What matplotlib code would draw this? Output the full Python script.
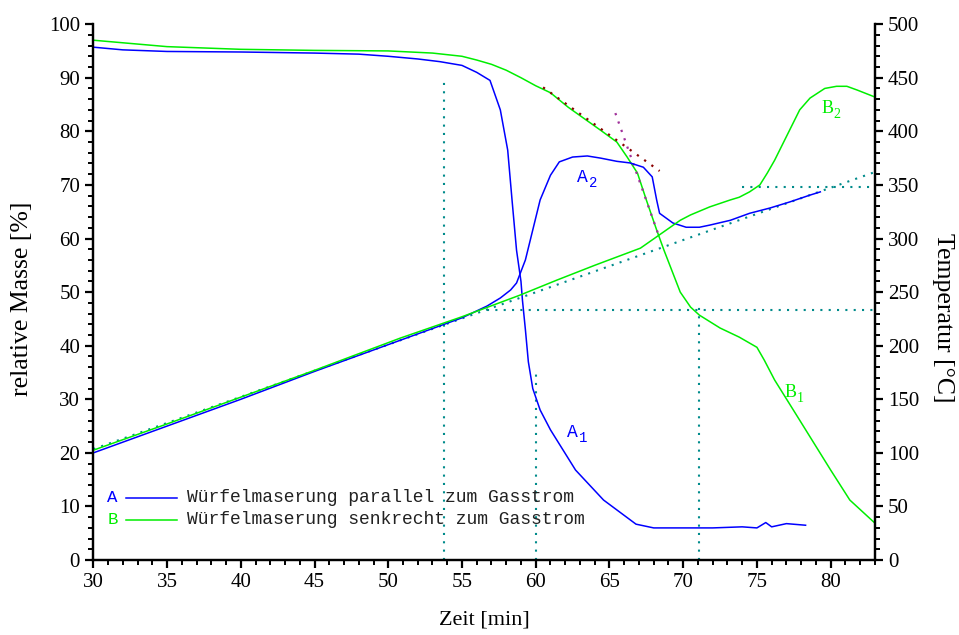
import matplotlib.pyplot as plt
from matplotlib.ticker import MultipleLocator

# Zeit [min] / relative Masse [%] fuer Probe A (parallel)
zeit_a_masse = [30, 32, 35, 40, 45, 48, 50, 52, 53.5, 55, 56, 56.9, 57.6, 58.1, 58.4,
                58.7, 59.0, 59.1, 59.3, 59.5, 59.8, 60.3, 61.0, 62.7, 64.6, 66.8, 68.0,
                70, 72, 74, 75, 75.6, 76, 77, 78.3]
masse_a = [95.7, 95.2, 94.9, 94.8, 94.6, 94.4, 94.0, 93.5, 93.0, 92.3, 91.0, 89.5,
           84.0, 76.5, 67.0, 57.8, 52.0, 48.5, 43.0, 37.0, 32.0, 28.0, 24.3, 16.8,
           11.2, 6.7, 6.0, 6.0, 6.0, 6.2, 6.0, 7.0, 6.2, 6.8, 6.5]

# Zeit [min] / relative Masse [%] fuer Probe B (senkrecht)
zeit_b_masse = [30, 35, 40, 45, 50, 53, 55, 56, 57, 58, 59, 60, 61, 62.2, 64.4, 65.5,
                66.2, 66.9, 67.5, 68.2, 68.7, 69.8, 70.5, 71.1, 72.5, 73.8, 75.0, 75.5,
                76.2, 77.9, 80.0, 81.3, 83.0]
masse_b = [97.0, 95.8, 95.3, 95.1, 95.0, 94.6, 94.0, 93.3, 92.5, 91.4, 90.0, 88.5,
           87.2, 84.5, 80.2, 78.0, 75.2, 72.2, 67.2, 61.6, 57.8, 50.0, 47.2, 45.7,
           43.3, 41.6, 39.7, 37.3, 33.6, 26.1, 16.8, 11.2, 6.9]

# Zeit [min] / Temperatur [°C] fuer Probe A
zeit_a_temp = [30, 35, 40, 45, 50.8, 55, 56.7, 57.6, 58.3, 58.7, 59.3, 59.8, 60.3,
               61.0, 61.6, 62.5, 63.5, 64.4, 65.5, 66.4, 67.3, 67.9, 68.2, 68.4, 69.3,
               70.2, 71.1, 71.8, 73.2, 74.5, 75.9, 77.2, 78.6, 79.3]
temp_a = [100, 125, 150, 176, 205, 226, 237, 244.5, 252, 258.5, 280, 308, 336, 359,
          371.5, 376, 377, 375, 372, 370.5, 366.5, 357.5, 336, 323.5, 314.5, 310.5,
          310.5, 312.5, 317, 323.5, 328.5, 334, 340.5, 343.5]

# Zeit [min] / Temperatur [°C] fuer Probe B
zeit_b_temp = [30, 35, 40, 45, 50.8, 55, 58.9, 61.4, 64, 67.1, 69.8, 70.5, 71.8,
               73.2, 73.8, 74.5, 75.2, 75.7, 76.2, 77.9, 78.6, 79.6, 80.4, 81.1, 81.8,
               83.0]
temp_b = [102.5, 127, 152, 177, 207, 227, 247, 261, 275, 291, 317, 322, 329.5, 336,
          338.5, 343.5, 350, 361, 373, 420, 431, 440, 442, 442, 438.5, 432]

# Hilfslinien (Auswertung)
hl_vert = [(53.8, 90.0), (60.0, 35.0), (71.1, 47.6)]    # Zeit, obere Grenze [%]
hl_horiz = [(233, 56.7), (348.5, 74.0)]                  # Temperatur, Startzeit
heizrate = ([30, 83], [103.5, 362])
tangente_1 = ([60.5, 68.4], [88.2, 72.6])
tangente_2 = ([65.4, 68.4], [83.4, 60.1])

blau = "#0000ff"
gruen = "#00ee00"
petrol = "#008b8b"

plt.rcParams["font.family"] = ["Liberation Serif", "DejaVu Serif"]

fig = plt.figure(figsize=(9.59, 6.35), dpi=100)
ax = fig.add_axes([0.0973, 0.118, 0.815, 0.844])
ax2 = ax.twinx()

dot = (0, (1, 3))
for t, top in hl_vert:
    ax.plot([t, t], [0, top], color=petrol, lw=1.5, ls=dot, zorder=1)
for temp, t0 in hl_horiz:
    ax2.plot([t0, 83], [temp, temp], color=petrol, lw=1.5, ls=dot, zorder=1)
ax2.plot(heizrate[0], heizrate[1], color=petrol, lw=1.5, ls=dot, zorder=1)
ax.plot(tangente_1[0], tangente_1[1], color="#8b0000", lw=1.6, ls=dot, zorder=3)
ax.plot(tangente_2[0], tangente_2[1], color="#a0309a", lw=1.6, ls=dot, zorder=3)

ax.plot(zeit_a_masse, masse_a, color=blau, lw=1.1, zorder=2)
ax.plot(zeit_b_masse, masse_b, color=gruen, lw=1.1, zorder=2)
ax2.plot(zeit_a_temp, temp_a, color=blau, lw=1.1, zorder=2)
ax2.plot(zeit_b_temp, temp_b, color=gruen, lw=1.1, zorder=2)


def kurvenname(axis, x, y, buchstabe, index, color, family):
    axis.text(x, y, buchstabe, color=color, fontsize=13, family=family,
              ha="left", va="baseline")
    axis.annotate(index, (x, y), xytext=(8.5, -4), textcoords="offset points",
                  color=color, fontsize=10, family=family, va="baseline")


kurvenname(ax, 62.1, 23.0, "A", "1", blau, "Liberation Mono")
kurvenname(ax, 62.8, 70.6, "A", "2", blau, "Liberation Mono")
kurvenname(ax, 76.9, 30.5, "B", "1", gruen, "Liberation Serif")
kurvenname(ax, 79.4, 83.5, "B", "2", gruen, "Liberation Serif")

# Legende
eintraege = [("A", blau, "Würfelmaserung parallel zum Gasstrom", 0.116),
             ("B", gruen, "Würfelmaserung senkrecht zum Gasstrom", 0.075)]
for kurz, farbe, text, ypos in eintraege:
    ax.text(0.018, ypos, kurz, transform=ax.transAxes, color=farbe,
            fontsize=12.5, family="Liberation Mono", va="center")
    ax.plot([0.042, 0.107], [ypos, ypos], transform=ax.transAxes, color=farbe, lw=1.1)
    ax.text(0.120, ypos, text, transform=ax.transAxes, color="#222222",
            fontsize=13, family="Liberation Mono", va="center")

ax.set_xlim(30, 83)
ax.set_ylim(0, 100)
ax2.set_ylim(0, 500)
ax.xaxis.set_major_locator(MultipleLocator(5))
ax.xaxis.set_minor_locator(MultipleLocator(1))
ax.yaxis.set_major_locator(MultipleLocator(10))
ax.yaxis.set_minor_locator(MultipleLocator(2))
ax2.yaxis.set_major_locator(MultipleLocator(50))
ax2.yaxis.set_minor_locator(MultipleLocator(10))

for a in (ax, ax2):
    a.spines["top"].set_visible(False)
    for s in a.spines.values():
        s.set_linewidth(1.6)
    a.tick_params(which="major", direction="out", length=6, width=1.6, labelsize=15)
    a.tick_params(which="minor", direction="out", length=3.5, width=1.4)

# Achsenbeschriftungen
ax.text(0.5, -0.112, "Zeit [min]", transform=ax.transAxes, fontsize=16,
        ha="center", va="center")
ax.text(-0.091, 0.487, "relative Masse [%]", transform=ax.transAxes, fontsize=18.5,
        rotation=90, ha="center", va="center")
ax.text(1.087, 0.453, "Temperatur [°C]", transform=ax.transAxes, fontsize=18.5,
        rotation=270, ha="center", va="center")

fig.savefig("out.png", dpi=100)
